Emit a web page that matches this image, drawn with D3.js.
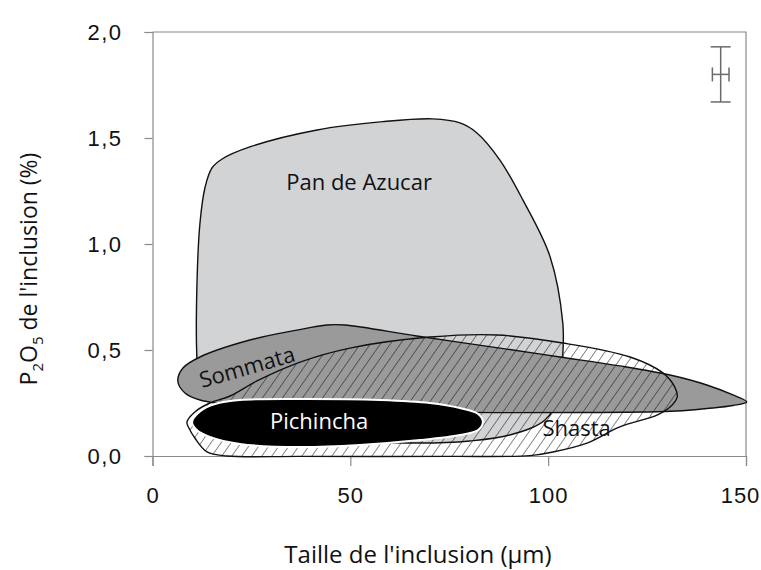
<!DOCTYPE html>
<html>
<head>
<meta charset="utf-8">
<script src="https://cdn.jsdelivr.net/npm/d3@7"></script>
<style>
  body { margin: 0; background: #fff; }
  svg { display: block; font-family: "Open Sans", sans-serif; }
</style>
</head>
<body>
<svg id="chart" width="761" height="570"></svg>
<script>
// values (x: inclusion size in µm, y: P2O5 in %)
const xTicks = [0, 50, 100, 150];
const yTicks = [0, 0.5, 1.0, 1.5, 2.0];

const panDeAzucar = [
    [11.2, 0.476], [11.2, 0.783], [12.0, 1.099], [13.3, 1.269], [15.0, 1.358],
    [17.6, 1.401], [24.6, 1.458], [41.6, 1.538], [58.2, 1.577], [70.8, 1.590],
    [77.7, 1.571], [82.0, 1.524], [87.8, 1.396], [93.6, 1.208], [100.5, 0.939],
    [103.7, 0.627], [103.7, 0.476], [102.9, 0.288], [99.2, 0.170], [90.3, 0.099],
    [80.2, 0.071], [67.6, 0.061], [49.9, 0.075], [27.2, 0.170], [14.5, 0.311],
    [11.5, 0.406]
];

const sommata = [
    [6.4, 0.354], [7.7, 0.415], [12.0, 0.467], [24.6, 0.547], [36.5, 0.594],
    [44.1, 0.618], [48.6, 0.618], [66.8, 0.566], [87.8, 0.509], [103.0, 0.467],
    [118.1, 0.425], [130.8, 0.382], [140.1, 0.335], [146.7, 0.288], [150.2, 0.255],
    [146.7, 0.238], [140.1, 0.224], [132.5, 0.212], [113.1, 0.205], [62.5, 0.208],
    [37.3, 0.217], [22.1, 0.236], [12.0, 0.264], [8.2, 0.297]
];

const shasta = [
    [8.7, 0.160], [10.7, 0.208], [14.5, 0.250], [19.6, 0.283], [26.4, 0.354],
    [37.3, 0.443], [49.9, 0.509], [70.1, 0.561], [87.1, 0.571], [103.7, 0.533],
    [120.7, 0.467], [129.0, 0.392], [132.0, 0.325], [132.6, 0.278], [130.8, 0.231],
    [127.5, 0.193], [118.1, 0.137], [109.8, 0.061], [101.2, 0.019], [95.4, 0.002],
    [75.2, -0.002], [37.3, -0.002], [18.8, 0.000], [13.8, 0.019], [10.7, 0.085],
    [9.2, 0.132]
];

const pichincha = [
    [10.0, 0.160], [12.0, 0.210], [15.8, 0.245], [22.1, 0.264], [37.3, 0.269],
    [57.5, 0.264], [70.1, 0.250], [77.7, 0.226], [82.3, 0.198], [83.5, 0.160],
    [82.3, 0.123], [77.7, 0.099], [67.6, 0.075], [52.4, 0.052], [37.3, 0.042],
    [22.1, 0.057], [14.5, 0.090], [11.2, 0.123]
];

const fieldNames = ["Pan de Azucar", "Sommata", "Shasta", "Pichincha"];
const fieldLabelX = [52.2, 23.8, 107.2, 42.1];
const fieldLabelY = [1.297, 0.425, 0.137, 0.170];

// analytical uncertainty: [x, y, ±x, ±y]
const errorBar = [143.6, 1.80, 2.1, 0.13];

(function () {
    'use strict';

    const WIDTH = 761;
    const HEIGHT = 570;
    const margin = {top: 32, right: 15, bottom: 114, left: 152.5};

    let svg = d3.select('#chart');

    let x = d3.scaleLinear().domain([0, 150]).range([margin.left, WIDTH - margin.right]);
    let y = d3.scaleLinear().domain([0, 2]).range([HEIGHT - margin.bottom, margin.top]);

    let fmt = v => d3.format('.1f')(v).replace('.', ',');

    let line = d3.line()
        .x(d => x(d[0]))
        .y(d => y(d[1]))
        .curve(d3.curveCatmullRomClosed.alpha(0.5));

    // hatch pattern for Shasta
    let defs = svg.append('defs');
    defs.append('pattern')
        .attr('id', 'hatch')
        .attr('patternUnits', 'userSpaceOnUse')
        .attr('width', 8.2)
        .attr('height', 8.2)
        .attr('patternTransform', 'rotate(35)')
        .append('line')
        .attr('x1', 0).attr('y1', 0)
        .attr('x2', 0).attr('y2', 8.2)
        .attr('stroke', '#111')
        .attr('stroke-width', 1);

    function drawFrame() {
        let g = svg.append('g');

        g.append('g')
            .attr('transform', `translate(0,${y(0)})`)
            .call(d3.axisBottom(x).tickValues(xTicks).tickSize(10).tickPadding(21).tickFormat(d3.format('d')))
            .call(a => a.selectAll('text')
                .attr('font-size', 22)
                .attr('letter-spacing', 1)
                .attr('dx', (d, i) => i === xTicks.length - 1 ? -6 : 0)
                .attr('fill', '#111'));

        g.append('g')
            .attr('transform', `translate(${x(0)},0)`)
            .call(d3.axisLeft(y).tickValues(yTicks).tickSize(8).tickPadding(22).tickFormat(fmt))
            .call(a => a.selectAll('text').attr('font-size', 22).attr('letter-spacing', 1.5).attr('fill', '#111'));

        g.selectAll('.domain, .tick line').attr('stroke', '#8a8a8a').attr('stroke-width', 1.2);

        // top and right frame lines
        g.append('path')
            .attr('d', `M${x(0)},${y(2)}H${x(150)}V${y(0)}`)
            .attr('fill', 'none')
            .attr('stroke', '#8a8a8a')
            .attr('stroke-width', 1.2);
    }

    function drawFields() {
        svg.append('path')
            .attr('d', line(panDeAzucar))
            .attr('fill', '#d2d3d5')
            .attr('stroke', '#111')
            .attr('stroke-width', 1.4);

        svg.append('path')
            .attr('d', line(sommata))
            .attr('fill', '#9a9a9a')
            .attr('stroke', '#111')
            .attr('stroke-width', 1.4);

        svg.append('path')
            .attr('d', line(shasta))
            .attr('fill', 'url(#hatch)')
            .attr('stroke', '#111')
            .attr('stroke-width', 1.4);

        svg.append('path')
            .attr('d', line(pichincha))
            .attr('fill', '#000')
            .attr('stroke', '#fff')
            .attr('stroke-width', 2);
    }

    function drawLabels() {
        let angles = [0, -16, 0, 0];
        let colors = ['#111', '#111', '#111', '#fff'];

        svg.append('g')
            .selectAll('text')
            .data(fieldNames)
            .join('text')
            .attr('transform', (d, i) => `translate(${x(fieldLabelX[i])},${y(fieldLabelY[i])}) rotate(${angles[i]})`)
            .attr('text-anchor', 'middle')
            .attr('dominant-baseline', 'central')
            .attr('font-size', 22)
            .attr('fill', (d, i) => colors[i])
            .text(d => d);

        svg.append('text')
            .attr('x', 418)
            .attr('y', 563)
            .attr('text-anchor', 'middle')
            .attr('font-size', 24)
            .attr('fill', '#111')
            .text("Taille de l'inclusion (µm)");

        let yl = svg.append('text')
            .attr('transform', 'translate(37,269) rotate(-90)')
            .attr('text-anchor', 'middle')
            .attr('font-size', 23)
            .attr('fill', '#111');
        yl.append('tspan').text('P');
        yl.append('tspan').attr('font-size', 15).attr('dy', 6).text('2');
        yl.append('tspan').attr('dy', -6).text('O');
        yl.append('tspan').attr('font-size', 15).attr('dy', 6).text('5');
        yl.append('tspan').attr('dy', -6).text(" de l'inclusion (%)");
    }

    function drawErrorBar() {
        let [ex, ey, dx, dy] = errorBar;
        let g = svg.append('g')
            .attr('stroke', '#6a6a6a')
            .attr('stroke-width', 1.5)
            .attr('fill', 'none');

        g.append('line').attr('x1', x(ex)).attr('x2', x(ex)).attr('y1', y(ey - dy)).attr('y2', y(ey + dy));
        g.append('line').attr('x1', x(ex) - 10).attr('x2', x(ex) + 10).attr('y1', y(ey + dy)).attr('y2', y(ey + dy));
        g.append('line').attr('x1', x(ex) - 10).attr('x2', x(ex) + 10).attr('y1', y(ey - dy)).attr('y2', y(ey - dy));
        g.append('line').attr('x1', x(ex - dx)).attr('x2', x(ex + dx)).attr('y1', y(ey)).attr('y2', y(ey));
        g.append('line').attr('x1', x(ex - dx)).attr('x2', x(ex - dx)).attr('y1', y(ey) - 7).attr('y2', y(ey) + 7);
        g.append('line').attr('x1', x(ex + dx)).attr('x2', x(ex + dx)).attr('y1', y(ey) - 7).attr('y2', y(ey) + 7);
    }

    drawFrame();
    drawFields();
    drawLabels();
    drawErrorBar();
})();
</script>
</body>
</html>
